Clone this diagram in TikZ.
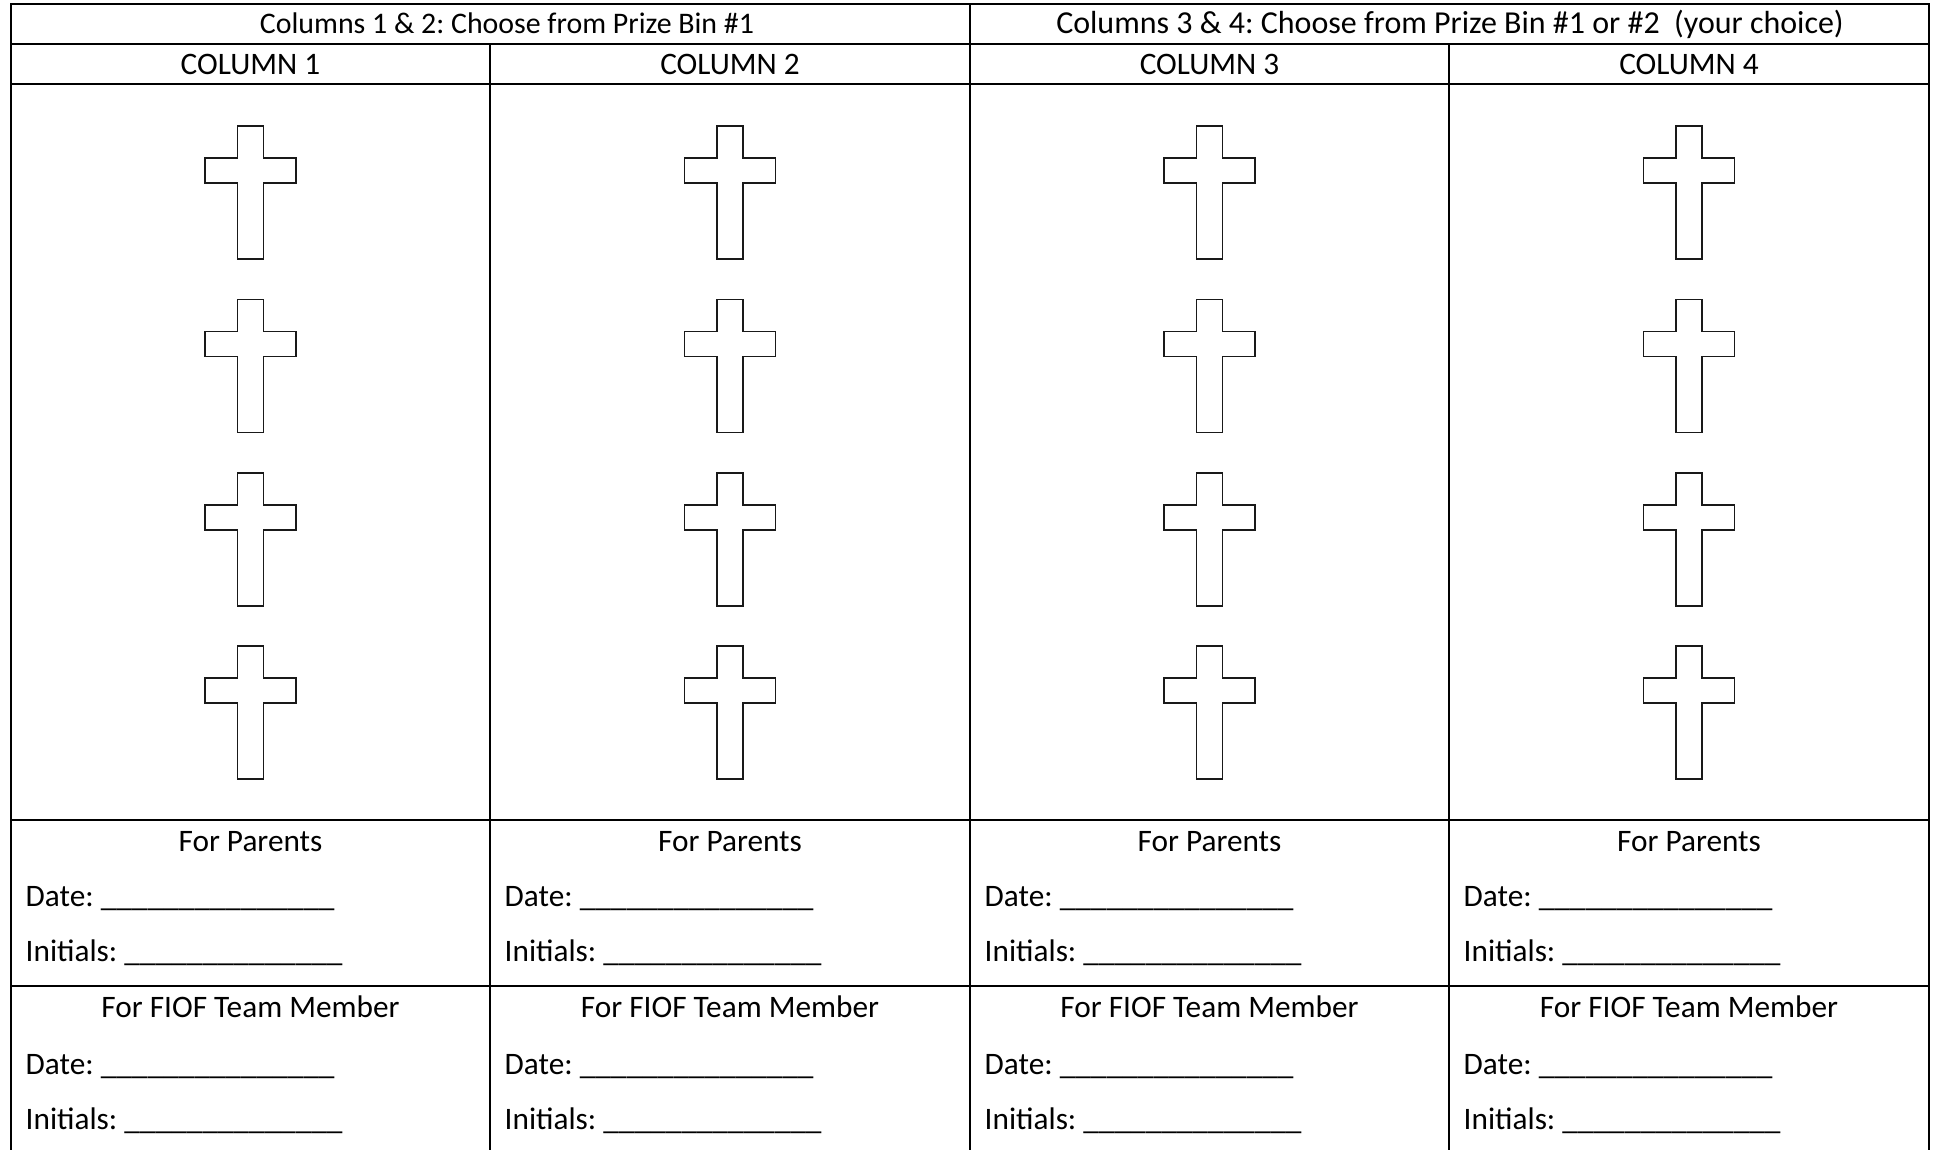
\documentclass[tikz,border=0pt]{standalone}
\usepackage{fontspec}
\setmainfont{Carlito}
\usetikzlibrary{positioning}
\frenchspacing

% a row of underscores to write on
\newcommand{\blankline}[1]{\foreach \u in {1,...,#1}{\_}}

\begin{document}
\begin{tikzpicture}[
  rule/.style={line width=0.6pt},
  crossline/.style={line width=0.45pt, black!90},
  txt/.style={inner sep=0pt, font=\fontsize{8.9}{10.7}\selectfont},
  ]
\useasboundingbox (0,0) rectangle (19.35,11.5);

% Table rules
\draw[rule] (0.11,0) -- (0.11,11.46) -- (19.29,11.46) -- (19.29,0);
\foreach \y in {11.06,10.66,3.30,1.64}
    \draw[rule] (0.11,\y) -- (19.29,\y);
\draw[rule] (9.70,0) -- (9.70,11.46);
\foreach \x in {4.90,14.49}
    \draw[rule] (\x,0) -- (\x,11.06);

% Prize bin headers
\node[txt, anchor=base, font=\fontsize{8.5}{10.2}\selectfont] (bin12) at (5.07,11.16) {Columns 1 \& 2: Choose from Prize Bin \#1};
\node[txt, anchor=base, font=\fontsize{9.1}{10.9}\selectfont] (bin34) at (14.50,11.16) {Columns 3 \& 4: Choose from Prize Bin \#1 or \#2\ \ (your choice)};

% Columns
\foreach \c/\cx/\lx in {1/2.505/0.11, 2/7.30/4.90, 3/12.095/9.70, 4/16.89/14.49} {
    \node[txt, anchor=base] (col\c) at (\cx,10.75) {COLUMN \c};

    % Crosses
    \foreach \r in {0,...,3}
        \draw[crossline, shift={(\cx,{10.24-1.734*\r})}]
            (-0.13,0) -- (0.13,0) -- (0.13,-0.32) -- (0.455,-0.32) -- (0.455,-0.57)
            -- (0.13,-0.57) -- (0.13,-1.33) -- (-0.13,-1.33) -- (-0.13,-0.57)
            -- (-0.455,-0.57) -- (-0.455,-0.32) -- (-0.13,-0.32) -- cycle;

    % Sign-off blocks
    \node[txt, anchor=base] (par\c) at (\cx,2.98) {For Parents};
    \node[txt, anchor=base west] (pardate\c) at (\lx+0.14,2.43) {Date: \blankline{15}};
    \node[txt, anchor=base west] (parinit\c) at (\lx+0.14,1.88) {Initials: \blankline{14}};
    \node[txt, anchor=base] (team\c) at (\cx,1.32) {For FIOF Team Member};
    \node[txt, anchor=base west] (teamdate\c) at (\lx+0.14,0.75) {Date: \blankline{15}};
    \node[txt, anchor=base west] (teaminit\c) at (\lx+0.14,0.20) {Initials: \blankline{14}};
}
\end{tikzpicture}
\end{document}
